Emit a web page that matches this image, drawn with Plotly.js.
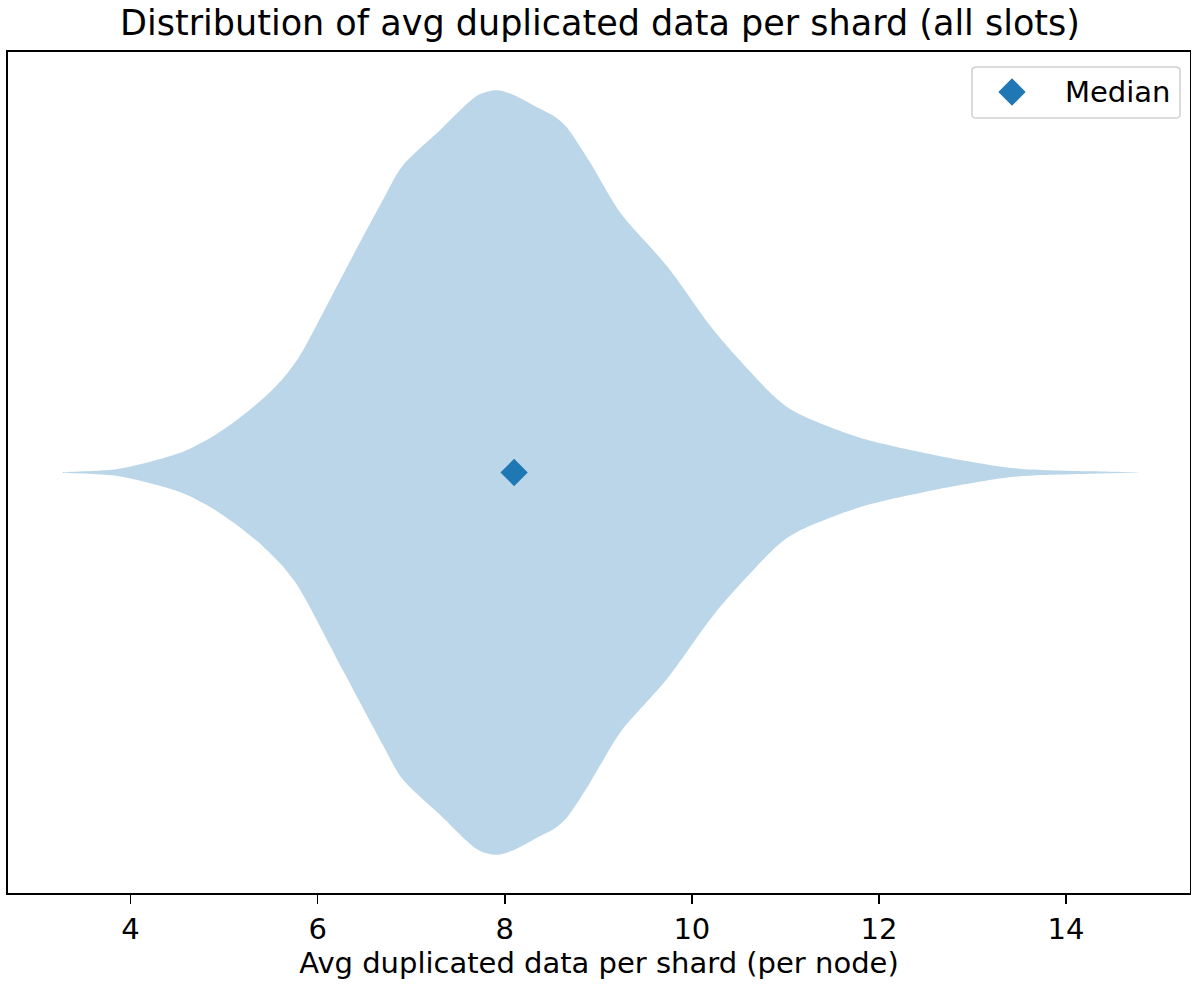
<!DOCTYPE html>
<html>
<head>
<meta charset="utf-8">
<script src="https://cdn.plot.ly/plotly-3.0.1.min.js"></script>
<style>
  html, body { margin: 0; padding: 0; background: #ffffff; }
  #chart { width: 1191px; height: 987px; }
</style>
</head>
<body>
<div id="chart"></div>
<script>
// Kernel-density outline of the violin: value on the x axis, half-width of the body.
const densityValues = [3.27, 3.83, 4.21, 4.56, 4.85, 5.14, 5.42, 5.63, 5.78, 5.89, 6.28, 6.70, 6.90,
                       7.31, 7.72, 7.92, 8.09, 8.34, 8.54, 8.66, 8.91, 9.02, 9.24, 9.74,
                       10.26, 10.92, 11.12, 11.78, 12.59, 13.41, 13.82, 14.30, 14.79];
const halfWidths    = [0.000, 0.004, 0.014, 0.027, 0.045, 0.069, 0.097, 0.123, 0.147, 0.170, 0.261, 0.357, 0.400,
                       0.448, 0.494, 0.500, 0.494, 0.478, 0.465, 0.452, 0.406, 0.383, 0.339, 0.269,
                       0.182, 0.095, 0.078, 0.046, 0.023, 0.006, 0.003, 0.0015, 0.000];
const medianValue = 8.1;
const xTicks = [4, 6, 8, 10, 12, 14];

const titleText = 'Distribution of avg duplicated data per shard (all slots)';
const xTitleText = 'Avg duplicated data per shard (per node)';
const legendLabel = 'Median';

const W = 1191, H = 987;
const M = { l: 8, r: 1, t: 52, b: 94 };
const plotW = W - M.l - M.r, plotH = H - M.t - M.b;
const px2fx = px => (px - M.l) / plotW;
const py2fy = py => (H - M.b - py) / plotH;

const FONT = 'DejaVu Sans, Liberation Sans, sans-serif';
const C0 = '#1f77b4';

// Mirror the outline to get a closed violin polygon.
const violinX = densityValues.concat(densityValues.slice().reverse());
const violinY = halfWidths.concat(halfWidths.slice().reverse().map(v => -v));

const traces = [
  {
    type: 'scatter', mode: 'lines',
    x: violinX, y: violinY,
    fill: 'toself', fillcolor: 'rgba(31,119,180,0.3)',
    line: { width: 0, shape: 'spline', smoothing: 0.8, color: 'rgba(0,0,0,0)' },
    hoverinfo: 'skip', showlegend: false
  },
  {
    type: 'scatter', mode: 'markers',
    x: [medianValue], y: [0],
    marker: { symbol: 'diamond', size: 21, color: C0, line: { width: 0 } },
    name: legendLabel, showlegend: false
  },
  // legend glyph, on an overlay axis spanning the plot area
  {
    type: 'scatter', mode: 'markers',
    x: [px2fx(1012)], y: [py2fy(92)],
    xaxis: 'x2', yaxis: 'y2',
    marker: { symbol: 'diamond', size: 21, color: C0, line: { width: 0 } },
    hoverinfo: 'skip', showlegend: false
  }
];

// rounded legend frame
const bx0 = px2fx(972), bx1 = px2fx(1180), by0 = py2fy(118), by1 = py2fy(67);
function roundedRectPath(x0, y0, x1, y1, r) {
  return `M ${x0 + r} ${y0} L ${x1 - r} ${y0} Q ${x1} ${y0} ${x1} ${y0 + r} ` +
         `L ${x1} ${y1 - r} Q ${x1} ${y1} ${x1 - r} ${y1} L ${x0 + r} ${y1} ` +
         `Q ${x0} ${y1} ${x0} ${y1 - r} L ${x0} ${y0 + r} Q ${x0} ${y0} ${x0 + r} ${y0} Z`;
}

const layout = {
  width: W, height: H,
  margin: { l: M.l, r: M.r, t: M.t, b: M.b, pad: 0 },
  paper_bgcolor: '#ffffff', plot_bgcolor: '#ffffff',
  font: { family: FONT, size: 29, color: '#000000' },
  showlegend: false,
  title: {
    text: titleText,
    font: { family: FONT, size: 35, color: '#000000' },
    x: 600 / W, xanchor: 'center',
    y: 1 - 23 / H, yanchor: 'middle', yref: 'container'
  },
  xaxis: {
    range: [2.69, 15.325],
    tickvals: xTicks, ticktext: xTicks.map(String),
    ticks: 'outside', ticklen: 9, tickwidth: 1.5, tickcolor: '#000000',
    tickfont: { family: FONT, size: 29, color: '#000000' },
    showline: true, linecolor: '#000000', linewidth: 2, mirror: true,
    showgrid: false, zeroline: false,
    title: { text: xTitleText, font: { family: FONT, size: 29, color: '#000000' }, standoff: 6 }
  },
  yaxis: {
    range: [-0.55, 0.55],
    showticklabels: false, ticks: '',
    showline: true, linecolor: '#000000', linewidth: 2, mirror: true,
    showgrid: false, zeroline: false
  },
  xaxis2: { overlaying: 'x', range: [0, 1], visible: false, fixedrange: true },
  yaxis2: { overlaying: 'y', range: [0, 1], visible: false, fixedrange: true },
  shapes: [
    {
      type: 'path', xref: 'paper', yref: 'paper',
      path: roundedRectPath(bx0, by0, bx1, by1, 0.004),
      line: { color: '#d0d0d0', width: 1.5 }, fillcolor: 'rgba(255,255,255,0.8)',
      layer: 'below'
    }
  ],
  annotations: [
    {
      xref: 'paper', yref: 'paper',
      x: px2fx(1063), y: py2fy(92), xanchor: 'left', yanchor: 'middle',
      text: legendLabel, showarrow: false,
      font: { family: FONT, size: 29, color: '#000000' }
    }
  ]
};

Plotly.newPlot('chart', traces, layout, { displayModeBar: false, staticPlot: true });
</script>
</body>
</html>
